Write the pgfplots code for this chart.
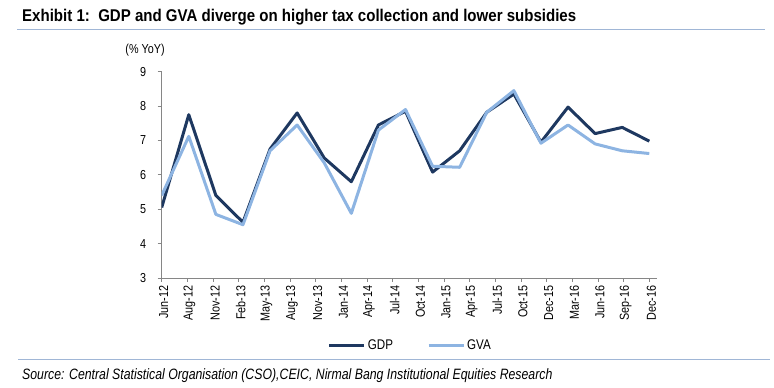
\documentclass[border=0pt]{standalone}
\usepackage{fontspec}
\setmainfont{Liberation Sans}
\newfontfamily\titlefont[FakeStretch=0.885]{Liberation Sans}
\newfontfamily\narrowfont[FakeStretch=0.82]{Liberation Sans}
\newfontfamily\tickfont[FakeStretch=0.83]{Liberation Sans}
\usepackage{pgfplots}
\pgfplotsset{compat=1.18}
\definecolor{gdpcol}{RGB}{30,56,96}
\definecolor{gvacol}{RGB}{141,180,226}
\definecolor{rulecol}{RGB}{160,182,214}
\definecolor{axiscol}{RGB}{134,134,134}
\begin{document}
\begin{tikzpicture}
\useasboundingbox (0pt,0pt) rectangle (774pt,388pt);
\node[anchor=base west, inner sep=0pt, font=\titlefont\bfseries\fontsize{17}{19}\selectfont] at (22pt,366pt) {Exhibit 1:\ \ GDP and GVA diverge on higher tax collection and lower subsidies};
\draw[rulecol, line width=1pt] (17pt,358pt) -- (765pt,358pt);
\draw[rulecol, line width=1pt] (18pt,28pt) -- (770pt,28pt);
\node[anchor=base west, inner sep=0pt, font=\narrowfont\itshape\fontsize{15}{17}\selectfont] at (22pt,8pt) {Source: Central Statistical Organisation (CSO),CEIC, Nirmal Bang Institutional Equities Research};
\node[anchor=center, inner sep=0pt, font=\tickfont\fontsize{13}{15}\selectfont] at (145pt,338pt) {(\% YoY)};
\begin{axis}[
  at={(161.7pt,110pt)}, anchor=south west,
  scale only axis, width=495.3pt, height=206.3pt,
  xmin=0, xmax=19.3, ymin=3, ymax=9,
  axis x line*=bottom, axis y line*=left,
  axis line style={axiscol, line width=0.8pt},
  tick style={axiscol, line width=0.8pt},
  tick align=outside, major tick length=4pt,
  ytick={3,4,5,6,7,8,9},
  xtick={0,1,2,3,4,5,6,7,8,9,10,11,12,13,14,15,16,17,18,19},
  xticklabels={Jun-12,Aug-12,Nov-12,Feb-13,May-13,Aug-13,Nov-13,Jan-14,Apr-14,Jul-14,Oct-14,Jan-15,Apr-15,Jul-15,Oct-15,Dec-15,Mar-16,Jun-16,Sep-16,Dec-16},
  ticklabel style={font=\tickfont\fontsize{13}{15}\selectfont, black},
  x tick label style={rotate=90, anchor=east, yshift=-2pt},
  y tick label style={xshift=-8pt},
  /pgf/number format/assume math mode=true,
  legend columns=2,
  legend style={draw=none, fill=none, at={(0.502,-0.325)}, anchor=center,
    font=\tickfont\fontsize{14}{16}\selectfont,
    /tikz/every even column/.append style={column sep=32pt}},
  legend image code/.code={\draw[#1, line width=3pt] (0pt,0pt) -- (35pt,0pt);},
]
\addplot[gdpcol, line width=3pt, line join=round] coordinates {
(0,5.05) (1.0556,7.75) (2.1111,5.4) (3.1667,4.62) (4.2222,6.75) (5.2778,7.8)
(6.3333,6.49) (7.3889,5.8) (8.4444,7.45) (9.5,7.85) (10.5556,6.08) (11.6111,6.7)
(12.6667,7.82) (13.7222,8.35) (14.7778,6.95) (15.8333,7.97) (16.8889,7.2)
(17.9444,7.38) (19,6.98)};
\addlegendentry{GDP}
\addplot[gvacol, line width=3pt, line join=round] coordinates {
(0,5.4) (1.0556,7.12) (2.1111,4.85) (3.1667,4.55) (4.2222,6.7) (5.2778,7.45)
(6.3333,6.35) (7.3889,4.88) (8.4444,7.3) (9.5,7.9) (10.5556,6.25) (11.6111,6.22)
(12.6667,7.82) (13.7222,8.45) (14.7778,6.92) (15.8333,7.45) (16.8889,6.9)
(17.9444,6.7) (19,6.62)};
\addlegendentry{GVA}
\end{axis}
\end{tikzpicture}
\end{document}
